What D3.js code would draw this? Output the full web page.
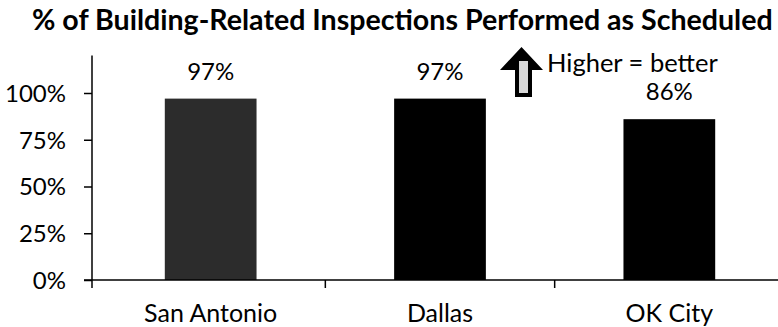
<!DOCTYPE html>
<html>
<head>
<meta charset="utf-8">
<script src="https://cdn.jsdelivr.net/npm/d3@7"></script>
<style>
  body { margin: 0; background: #fff; }
  text { font-family: Lato, "Liberation Sans", sans-serif; fill: #000; }
</style>
</head>
<body>
<script>
var cities = ["San Antonio", "Dallas", "OK City"];
var pctScheduled = [0.97, 0.97, 0.86];
var barColors = ["#2c2c2c", "#000", "#000"];
var yTicks = [0, 0.25, 0.5, 0.75, 1];
var chartTitle = "% of Building-Related Inspections Performed as Scheduled";
var noteText = "Higher = better";

var width = 778, height = 327;
var x0 = 92, yBottom = 280;

var svg = d3.select("body").append("svg")
    .attr("width", width)
    .attr("height", height);

var xScale = d3.scaleBand()
    .domain(cities)
    .range([96, 784])
    .paddingInner(0.6)
    .paddingOuter(0.3);

var yScale = d3.scaleLinear()
    .domain([0, 1.2])
    .range([yBottom, 55.6]);

// title, fitted to the width it has in the picture
var title = svg.append("text")
    .attr("x", 32)
    .attr("y", 30)
    .style("font-weight", "bold")
    .style("font-size", "26px")
    .text(chartTitle);
var tw = title.node().getComputedTextLength();
title.style("font-size", (26 * 741 / tw) + "px");

// bars
svg.selectAll(".bar")
    .data(pctScheduled)
    .enter().append("rect")
    .attr("class", "bar")
    .attr("x", function (d, i) { return xScale(cities[i]); })
    .attr("y", function (d) { return yScale(d); })
    .attr("width", xScale.bandwidth())
    .attr("height", function (d) { return yBottom - yScale(d); })
    .attr("fill", function (d, i) { return barColors[i]; });

// value labels
svg.selectAll(".val")
    .data(pctScheduled)
    .enter().append("text")
    .attr("class", "val")
    .attr("x", function (d, i) { return xScale(cities[i]) + xScale.bandwidth() / 2; })
    .attr("y", function (d) { return yScale(d) - 19; })
    .attr("text-anchor", "middle")
    .style("font-size", "24px")
    .text(function (d) { return Math.round(d * 100) + "%"; });

// y axis
var yAxis = d3.axisLeft(yScale)
    .tickValues(yTicks)
    .tickSize(8)
    .tickPadding(18)
    .tickFormat(d3.format(".0%"));

var gy = svg.append("g")
    .attr("transform", "translate(" + x0 + ",0)")
    .call(yAxis);
gy.select(".domain").remove();
gy.selectAll("line").attr("stroke", "#000").attr("stroke-width", 1.5);
gy.selectAll("text").style("font-size", "24px").attr("dy", "0.35em");
gy.append("line")
    .attr("x1", 0).attr("x2", 0)
    .attr("y1", yScale(1.2)).attr("y2", yBottom + 8)
    .attr("stroke", "#000").attr("stroke-width", 1.5);

// x axis: baseline, ticks between categories, labels
svg.append("line")
    .attr("x1", x0 - 8).attr("x2", width)
    .attr("y1", yBottom).attr("y2", yBottom)
    .attr("stroke", "#000").attr("stroke-width", 1.5);

var step = xScale.step();
svg.selectAll(".xtick")
    .data(cities.slice(1))
    .enter().append("line")
    .attr("class", "xtick")
    .attr("x1", function (d) { return xScale(d) - step * 0.3; })
    .attr("x2", function (d) { return xScale(d) - step * 0.3; })
    .attr("y1", yBottom).attr("y2", yBottom + 8)
    .attr("stroke", "#000").attr("stroke-width", 1.5);

svg.selectAll(".cat")
    .data(cities)
    .enter().append("text")
    .attr("class", "cat")
    .attr("x", function (d) { return xScale(d) + xScale.bandwidth() / 2; })
    .attr("y", 322)
    .attr("text-anchor", "middle")
    .style("font-size", "25px")
    .text(function (d) { return d; });

// "higher = better" arrow and note
var arrow = svg.append("g").attr("transform", "translate(500,47)");
arrow.append("path")
    .attr("d", "M21.5,0 L43,23 L32,23 L32,50 L15,50 L15,23 L0,23 Z")
    .attr("fill", "#000");
arrow.append("rect")
    .attr("x", 19).attr("y", 14)
    .attr("width", 9).attr("height", 32)
    .attr("fill", "#d8d8d8");

svg.append("text")
    .attr("x", 547)
    .attr("y", 72)
    .style("font-size", "25.5px")
    .text(noteText);
</script>
</body>
</html>
